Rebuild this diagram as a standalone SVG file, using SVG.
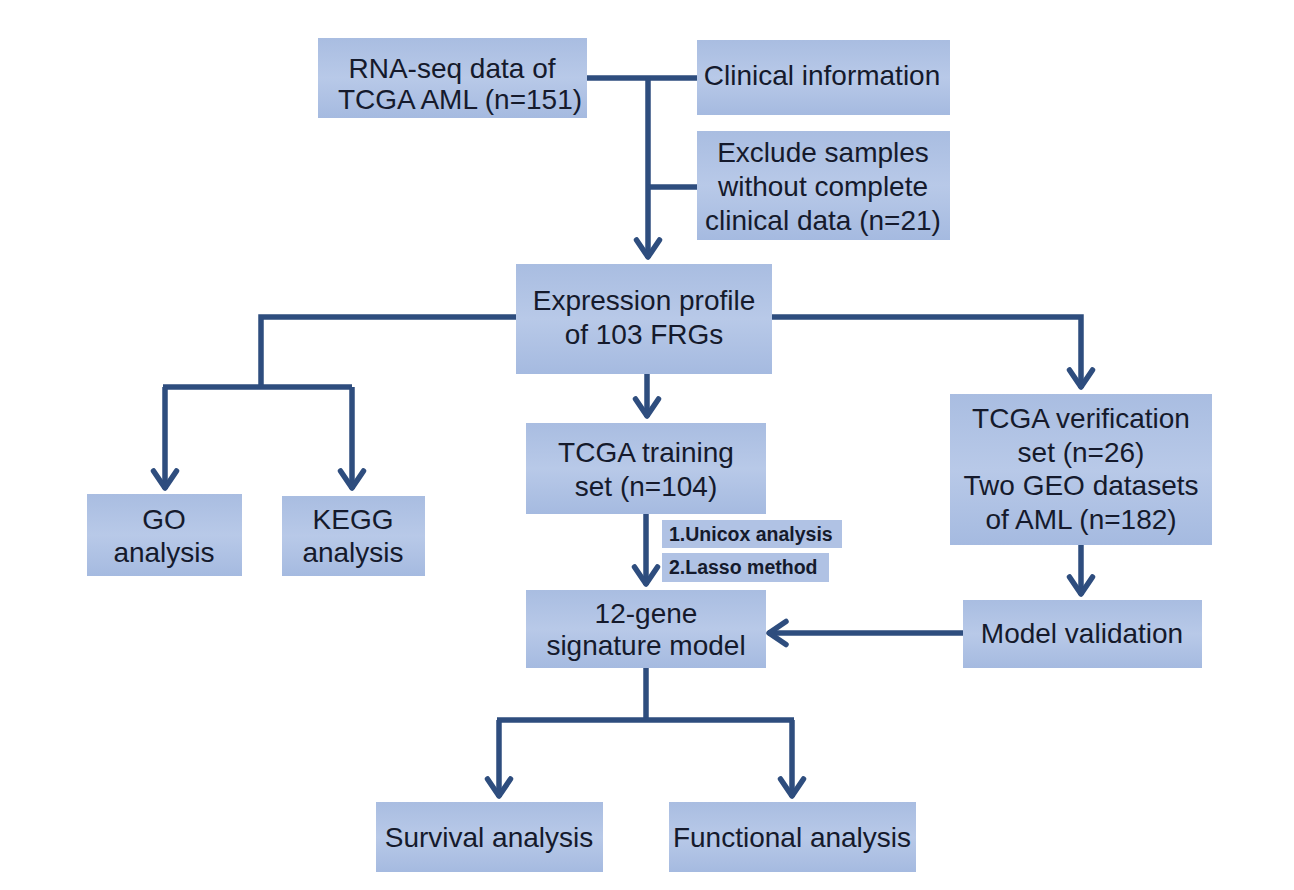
<svg xmlns="http://www.w3.org/2000/svg" width="1294" height="890" viewBox="0 0 1294 890">
<defs>
<linearGradient id="bg" x1="0" y1="0" x2="0" y2="1">
<stop offset="0" stop-color="#a9bde1"/>
<stop offset="0.5" stop-color="#b8c9e8"/>
<stop offset="1" stop-color="#a5bae0"/>
</linearGradient>
<marker id="arr" viewBox="-22 -15 26 30" refX="0" refY="0" markerWidth="26" markerHeight="30" markerUnits="userSpaceOnUse" orient="auto">
<path d="M-18,-11.5 L-1,0 L-18,11.5" fill="none" stroke="#2e4d7e" stroke-width="5.5" stroke-linecap="round" stroke-linejoin="round"/>
</marker>
<style>
.box{fill:url(#bg);}
.t{font-family:"Liberation Sans",Arial,sans-serif;font-size:28px;fill:#151a2c;text-anchor:middle;}
.s{font-family:"Liberation Sans",Arial,sans-serif;font-size:19.5px;font-weight:bold;fill:#151a2c;}
.c{fill:none;stroke:#2e4d7e;stroke-width:5.5;}
.a{marker-end:url(#arr);}
</style>
</defs>
<rect width="1294" height="890" fill="#ffffff"/>

<g id="connectors">
<path class="c" d="M586,78 H697"/>
<path class="c a" d="M648,78 V258"/>
<path class="c" d="M648,187 H697"/>
<path class="c" d="M516,317 H261 V387"/>
<path class="c" d="M163,387 H352"/>
<path class="c a" d="M165,387 V489"/>
<path class="c a" d="M352,387 V489"/>
<path class="c a" d="M772,317 H1081 V388"/>
<path class="c a" d="M647,374 V417"/>
<path class="c a" d="M646,514 V585"/>
<path class="c a" d="M1081,545 V595"/>
<path class="c a" d="M963,633 H768"/>
<path class="c" d="M646,668 V720"/>
<path class="c" d="M497,720 H794"/>
<path class="c a" d="M499,720 V797"/>
<path class="c a" d="M792,720 V797"/>
</g>

<g id="n-rnaseq">
<rect class="box" x="318" y="38" width="269" height="80"/>
<text class="t" x="452" y="78">RNA-seq data of</text>
<text class="t" x="460" y="109">TCGA AML (n=151)</text>
</g>
<g id="n-clinical">
<rect class="box" x="697" y="40" width="253" height="75"/>
<text class="t" x="822" y="85">Clinical information</text>
</g>
<g id="n-exclude">
<rect class="box" x="697" y="131" width="253" height="109"/>
<text class="t" x="823" y="162">Exclude samples</text>
<text class="t" x="823" y="196">without complete</text>
<text class="t" x="823" y="230">clinical data (n=21)</text>
</g>
<g id="n-expression">
<rect class="box" x="516" y="264" width="256" height="110"/>
<text class="t" x="644" y="310">Expression profile</text>
<text class="t" x="644" y="344">of 103 FRGs</text>
</g>
<g id="n-go">
<rect class="box" x="87" y="494" width="155" height="82"/>
<text class="t" x="164" y="529">GO</text>
<text class="t" x="164" y="562">analysis</text>
</g>
<g id="n-kegg">
<rect class="box" x="282" y="496" width="143" height="80"/>
<text class="t" x="353" y="529">KEGG</text>
<text class="t" x="353" y="562">analysis</text>
</g>
<g id="n-training">
<rect class="box" x="526" y="423" width="240" height="91"/>
<text class="t" x="646" y="462">TCGA training</text>
<text class="t" x="646" y="496">set (n=104)</text>
</g>
<g id="n-unicox">
<rect x="662" y="520" width="180" height="28" fill="#b0c2e4"/>
<text class="s" x="669" y="541">1.Unicox analysis</text>
</g>
<g id="n-lasso">
<rect x="662" y="553" width="167" height="29" fill="#b0c2e4"/>
<text class="s" x="669" y="574">2.Lasso method</text>
</g>
<g id="n-verification">
<rect class="box" x="950" y="394" width="262" height="151"/>
<text class="t" x="1081" y="428">TCGA verification</text>
<text class="t" x="1081" y="462">set (n=26)</text>
<text class="t" x="1081" y="495">Two GEO datasets</text>
<text class="t" x="1081" y="529">of AML (n=182)</text>
</g>
<g id="n-validation">
<rect class="box" x="963" y="600" width="239" height="68"/>
<text class="t" x="1082" y="643">Model validation</text>
</g>
<g id="n-12gene">
<rect class="box" x="526" y="590" width="240" height="78"/>
<text class="t" x="646" y="623">12-gene</text>
<text class="t" x="646" y="655">signature model</text>
</g>
<g id="n-survival">
<rect class="box" x="376" y="802" width="227" height="70"/>
<text class="t" x="489" y="847">Survival analysis</text>
</g>
<g id="n-functional">
<rect class="box" x="669" y="802" width="247" height="70"/>
<text class="t" x="792" y="847">Functional analysis</text>
</g>
</svg>
